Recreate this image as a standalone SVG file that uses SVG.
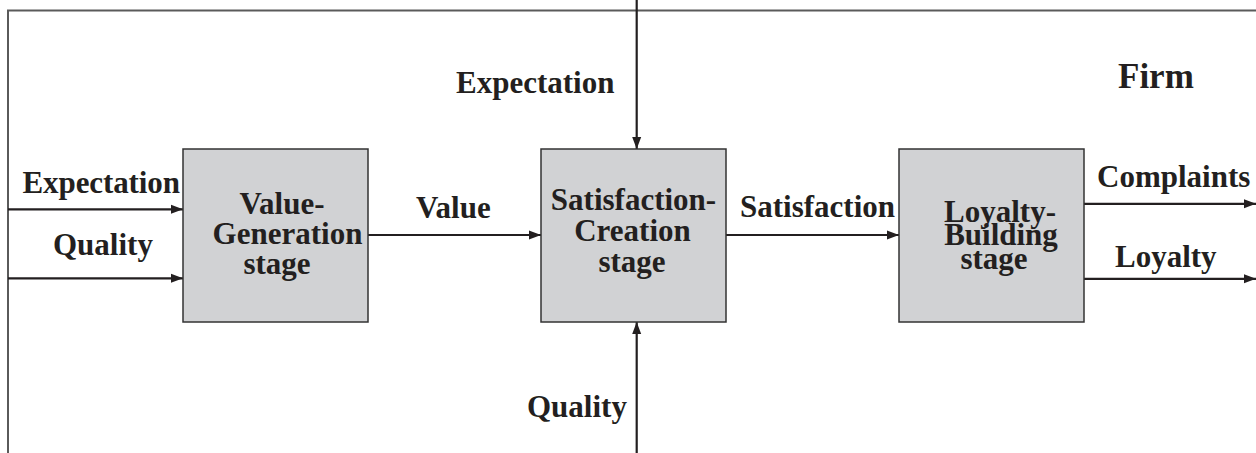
<svg xmlns="http://www.w3.org/2000/svg" width="1256" height="453" viewBox="0 0 1256 453">
<style>
.t{font-family:"Liberation Serif","Times New Roman",serif;font-weight:bold;font-size:31px;fill:#231f20}
.c{text-anchor:middle}
.box{fill:#d1d2d4;stroke:#333;stroke-width:1.5}
.ln{stroke:#231f20;stroke-width:2.2;fill:none}
.fr{stroke:#5a5a5a;stroke-width:2;fill:none}
</style>
<defs>
<marker id="ah" markerUnits="userSpaceOnUse" markerWidth="12" markerHeight="10" refX="12" refY="5" orient="auto">
<path d="M0,0.5 L12,5 L0,9.5 z" fill="#231f20"/>
</marker>
</defs>
<g id="frame">
<path class="fr" d="M8,453 L8,10.5 L1256,10.5"/>
</g>
<g id="connectors">
<line class="ln" x1="8" y1="209.3" x2="183" y2="209.3" marker-end="url(#ah)"/>
<line class="ln" x1="8" y1="278.3" x2="183" y2="278.3" marker-end="url(#ah)"/>
<line class="ln" x1="368" y1="235" x2="541" y2="235" marker-end="url(#ah)"/>
<line class="ln" x1="726" y1="235" x2="899" y2="235" marker-end="url(#ah)"/>
<line class="ln" x1="1084" y1="203.8" x2="1256" y2="203.8" marker-end="url(#ah)"/>
<line class="ln" x1="1084" y1="278.8" x2="1256" y2="278.8" marker-end="url(#ah)"/>
<line class="ln" x1="636.7" y1="0" x2="636.7" y2="149" marker-end="url(#ah)"/>
<line class="ln" x1="636.7" y1="453" x2="636.7" y2="322" marker-end="url(#ah)"/>
</g>
<g id="labels">
<text class="t" x="22.5" y="192.5" textLength="157.5">Expectation</text>
<text class="t" x="53" y="255">Quality</text>
<text class="t" x="416" y="218">Value</text>
<text class="t" x="740" y="217">Satisfaction</text>
<text class="t" x="1097" y="187">Complaints</text>
<text class="t" x="1115" y="267">Loyalty</text>
<text class="t" x="456" y="93">Expectation</text>
<text class="t" x="527" y="417">Quality</text>
<text class="t" x="1118" y="88" style="font-size:35px">Firm</text>
</g>
<g id="value-generation">
<rect class="box" x="183" y="149" width="185" height="173"/>
<text class="t c" x="282" y="214">Value-</text>
<text class="t c" x="287.5" y="244">Generation</text>
<text class="t c" x="277" y="274">stage</text>
</g>
<g id="satisfaction-creation">
<rect class="box" x="541" y="149" width="185" height="173"/>
<text class="t c" x="633.5" y="210">Satisfaction-</text>
<text class="t c" x="632.5" y="241">Creation</text>
<text class="t c" x="632" y="272">stage</text>
</g>
<g id="loyalty-building">
<rect class="box" x="899" y="149" width="185" height="173"/>
<text class="t c" x="1000" y="221.5">Loyalty-</text>
<text class="t c" x="1001" y="245">Building</text>
<text class="t c" x="994" y="268.5">stage</text>
</g>
</svg>
